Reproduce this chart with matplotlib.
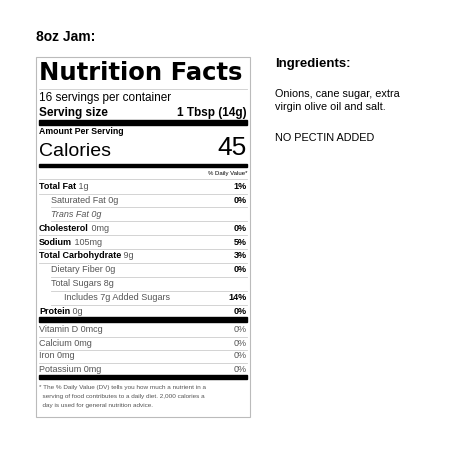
import matplotlib
matplotlib.use("Agg")
import matplotlib.pyplot as plt

title = "8oz Jam:"
servings = "16 servings per container"
serving_size = "1 Tbsp (14g)"
calories = "45"
# (label bold, amount, dv, indent, dv_bold)
rows = [
    ("Total Fat", " 1g", "1%", 0, True),
    ("Saturated Fat 0g", "", "0%", 1, True),
    ("Trans Fat 0g", "", "", 1, False),
    ("Cholesterol", " 0mg", "0%", 0, True),
    ("Sodium", " 105mg", "5%", 0, True),
    ("Total Carbohydrate", " 9g", "3%", 0, True),
    ("Dietary Fiber 0g", "", "0%", 1, True),
    ("Total Sugars 8g", "", "", 1, False),
    ("Includes 7g Added Sugars", "", "14%", 2, True),
    ("Protein", " 0g", "0%", 0, True),
]
vitamins = [("Vitamin D 0mcg", "0%"), ("Calcium 0mg", "0%"), ("Iron 0mg", "0%"), ("Potassium 0mg", "0%")]
footnote = ["* The % Daily Value (DV) tells you how much a nutrient in a",
            "  serving of food contributes to a daily diet. 2,000 calories a",
            "  day is used for general nutrition advice."]
ingredients = ["Onions, cane sugar, extra", "virgin olive oil and salt."]

plt.rcParams['font.family'] = ['Liberation Sans', 'DejaVu Sans']
fig = plt.figure(figsize=(4.51, 4.51), dpi=100)
ax = fig.add_axes([0, 0, 1, 1])
ax.set_xlim(0, 451); ax.set_ylim(451, 0); ax.axis('off')

L, R = 39, 247
ax.add_patch(plt.Rectangle((35.5, 56.5), 214, 360, fill=False, ec='#bbbbbb', lw=0.8))
ax.text(36, 37, title, fontsize=10, fontweight='bold', va='center')
ax.text(L, 73, "Nutrition Facts", fontsize=17.5, fontweight='black', va='center', family='DejaVu Sans')
ax.plot([L, R], [88.5, 88.5], color='#cccccc', lw=0.6)
ax.text(L, 98, servings, fontsize=8.5, va='center')
ax.text(L, 113, "Serving size", fontsize=8.5, fontweight='bold', va='center')
ax.text(R, 113, serving_size, fontsize=8.5, fontweight='bold', va='center', ha='right')
ax.add_patch(plt.Rectangle((L, 120), R - L, 5, color='black'))
ax.text(L, 132, "Amount Per Serving", fontsize=6.3, fontweight='bold', va='center')
ax.text(L, 151, "Calories", fontsize=14, va='center')
ax.text(R, 148, calories, fontsize=19, va='center', ha='right')
ax.add_patch(plt.Rectangle((L, 164), R - L, 3, color='black'))
ax.text(R, 173, "% Daily Value*", fontsize=4.3, va='center', ha='right')
ax.plot([L, R], [179, 179], color='#cccccc', lw=0.6)

indent = [0, 12, 25]
y = 186.5
for lab, amt, dv, ind, dvb in rows:
    x = L + indent[ind]
    if ind == 0:
        t = ax.text(x, y, lab, fontsize=6.5, fontweight='bold', va='center')
        fig.canvas.draw()
        bb = t.get_window_extent()
        ax.text(x + bb.width, y, amt, fontsize=6.5, color='#555555', va='center')
    else:
        ax.text(x, y, lab, fontsize=6.5, color='#555555', va='center',
                style='italic' if lab.startswith('Trans') else 'normal')
    if dv:
        ax.text(R, y, dv, fontsize=6.5, fontweight='bold', va='center', ha='right')
    if lab != "Protein":
        nx = L + indent[ind] if ind else L
        ax.plot([L if ind == 0 else L + 12, R], [y + 7, y + 7], color='#cccccc', lw=0.6)
    y += 13.9

ax.add_patch(plt.Rectangle((L, 317), R - L, 5, color='black'))
y = 330
for lab, dv in vitamins:
    ax.text(L, y, lab, fontsize=6.5, color='#555555', va='center')
    ax.text(R, y, dv, fontsize=6.5, color='#555555', va='center', ha='right')
    if lab != "Potassium 0mg":
        ax.plot([L, R], [y + 6.5, y + 6.5], color='#cccccc', lw=0.6)
    y += 13
ax.add_patch(plt.Rectangle((L, 375), R - L, 4, color='black'))
for i, line in enumerate(footnote):
    ax.text(L, 387 + i * 9.5, line, fontsize=4.6, color='#555555', va='center')

ax.text(275, 64, "Ingredients:", fontsize=9.5, fontweight='bold', va='center')
for i, line in enumerate(ingredients):
    ax.text(275, 94 + i * 13.5, line, fontsize=7.8, va='center')
ax.text(275, 138, "NO PECTIN ADDED", fontsize=7.8, va='center')

fig.savefig("out.png", dpi=100)
